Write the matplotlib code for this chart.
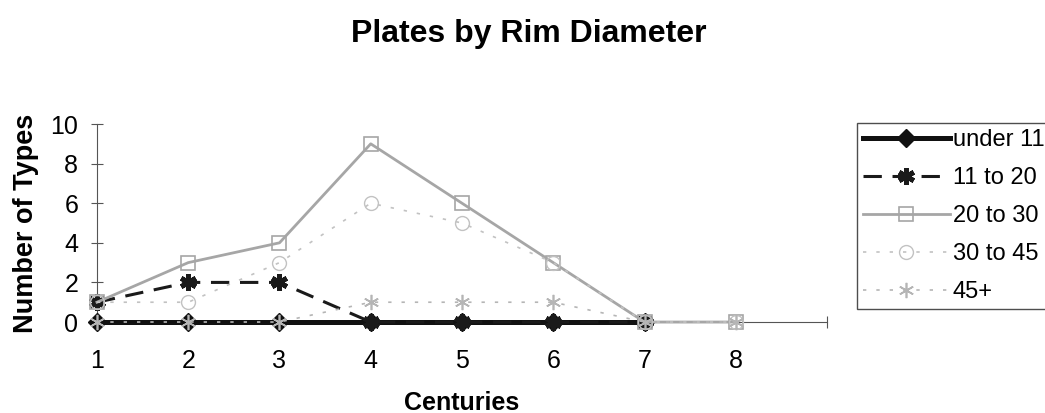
import numpy as np
import matplotlib
matplotlib.use("Agg")
from matplotlib import pyplot as plt

plt.rcParams['font.family'] = ['Liberation Sans', 'DejaVu Sans']

# counts of plate types per century, by rim diameter
centuries = [1, 2, 3, 4, 5, 6, 7, 8]
under_11 = [0, 0, 0, 0, 0, 0, 0, np.nan]
d11_20 = [1, 2, 2, 0, 0, 0, 0, np.nan]
d20_30 = [1, 3, 4, 9, 6, 3, 0, 0]
d30_45 = [1, 1, 3, 6, 5, 3, 0, 0]
d45_plus = [0, 0, 0, 1, 1, 1, 0, 0]

fig = plt.figure(figsize=(10.45, 4.13), dpi=100)
ax = fig.add_axes([0.0928, 0.2203, 0.6986, 0.4794])

asterisk = (6, 2, 0)
ax.plot(centuries, under_11, color='#111111', lw=3.6, ls='-',
        marker='D', ms=9, label='under 11', zorder=3, clip_on=False)
ax.plot(centuries, d11_20, color='#1a1a1a', lw=2.2, ls=(0, (6, 3.5)),
        marker=asterisk, ms=12, mew=3.5, label='11 to 20', zorder=4, clip_on=False)
ax.plot(centuries, d20_30, color='#a6a6a6', lw=2.0, ls='-',
        marker='s', ms=10, mfc='none', mew=1.2, label='20 to 30', zorder=5, clip_on=False)
ax.plot(centuries, d30_45, color='#c2c2c2', lw=1.2, ls=(0, (2, 6)),
        marker='o', ms=10, mfc='none', mew=1.0, label='30 to 45', zorder=6, clip_on=False)
ax.plot(centuries, d45_plus, color='#b5b5b5', lw=1.2, ls=(0, (2, 6)),
        marker=asterisk, ms=11, mew=1.2, label='45+', zorder=7, clip_on=False)

ax.set_xlim(1, 9)
ax.set_ylim(0, 10)
ax.set_xticks([1, 2, 3, 4, 5, 6, 7, 8, 9])
ax.set_xticklabels(['1', '2', '3', '4', '5', '6', '7', '8', ''])
ax.set_yticks([0, 2, 4, 6, 8, 10])
ax.spines['top'].set_visible(False)
ax.spines['right'].set_visible(False)
for s in ['left', 'bottom']:
    ax.spines[s].set_color('#555555')
ax.tick_params(axis='both', labelsize=18, color='#555555', length=9,
               direction='inout')
ax.tick_params(axis='x', pad=15)
ax.tick_params(axis='y', pad=9)

ax.set_ylabel('Number of Types', fontsize=19.5, fontweight='bold', labelpad=8.5)
fig.text(0.442, 0.008, 'Centuries', fontsize=18, fontweight='bold',
         ha='center', va='baseline')
fig.text(0.506, 0.898, 'Plates by Rim Diameter', fontsize=23, fontweight='bold',
         ha='center', va='baseline')

leg = ax.legend(loc='upper left', bbox_to_anchor=(0.820, 0.702),
                bbox_transform=fig.transFigure, fontsize=17, frameon=True,
                fancybox=False, handlelength=3.7, handletextpad=0.12,
                labelspacing=0.68, borderpad=0.25, borderaxespad=0)
leg.get_frame().set_edgecolor('#222222')
leg.get_frame().set_linewidth(1.0)

fig.savefig('out.png', dpi=100)
